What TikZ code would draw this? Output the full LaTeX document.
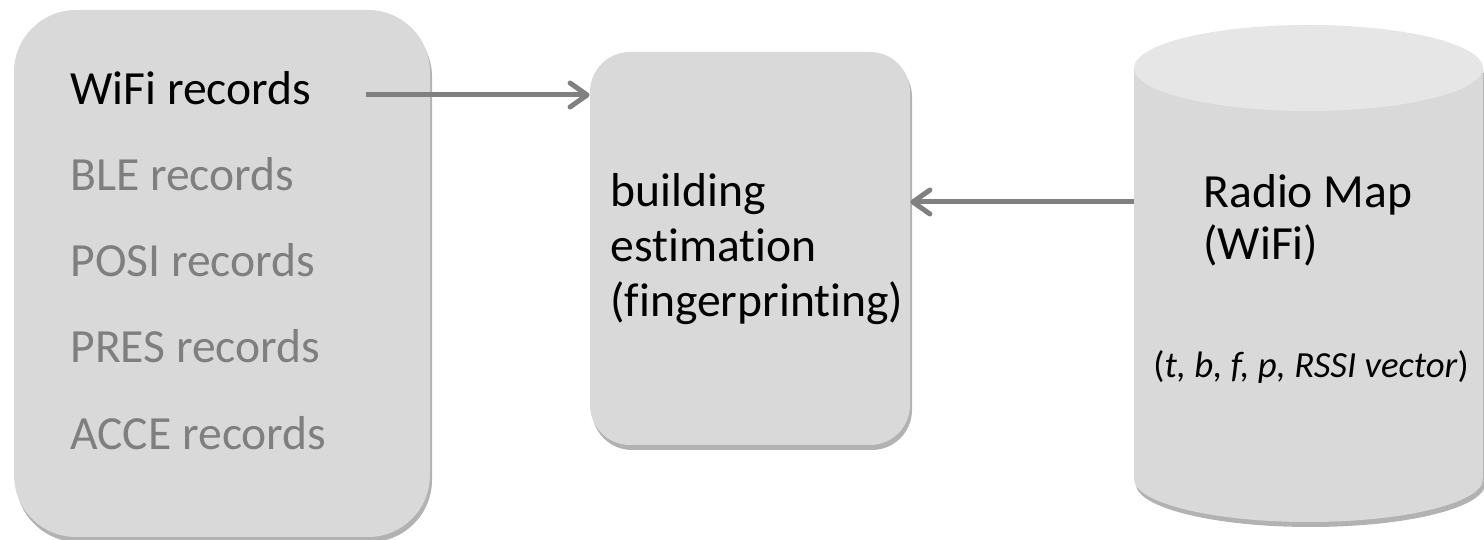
\documentclass[tikz,border=0pt]{standalone}
\usepackage{fontspec}
\setmainfont{Carlito}[Ligatures=CommonOff]
\usepackage{xcolor}
\usetikzlibrary{arrows.meta,shadows}
\definecolor{boxgray}{HTML}{D9D9D9}
\definecolor{topgray}{HTML}{E6E6E6}
\definecolor{arrowgray}{HTML}{808080}
\definecolor{textgray}{HTML}{7F7F7F}

\begin{document}
\begin{tikzpicture}[x=0.5pt, y=0.5pt,
  panel/.style={fill=boxgray, draw=none, inner sep=0pt,
    drop shadow={shadow xshift=1pt, shadow yshift=-2.5pt, opacity=0.3, fill=black}},
  txt/.style={anchor=base west, inner sep=0pt, font=\fontsize{23.8}{28}\selectfont},
  link/.style={-{Straight Barb[length=8.5pt, width=12pt, round]}, line width=2.5pt, arrowgray}]
\useasboundingbox (0,0) rectangle (1484,540);
% блоки
\node (records) [panel, rounded corners=31pt, minimum width=208pt, minimum height=263.5pt] at (222,266.5) {};
\node (est) [panel, rounded corners=20pt, minimum width=160pt, minimum height=196.5pt] at (750,291.5) {};
% цилиндр
\path [fill=boxgray, drop shadow={shadow xshift=1pt, shadow yshift=-2.5pt, opacity=0.3, fill=black}]
  (1134,472) -- (1134,61) arc [start angle=180, end angle=360, x radius=174.5, y radius=43] -- (1483,472) -- cycle;
\fill [topgray] (1308.5,472) ellipse [x radius=174.5, y radius=43];
% подписи
\node (wifi) [txt] at (70,435) {WiFi records};
\node (ble) [txt, textgray] at (70,349) {BLE records};
\node (posi) [txt, textgray] at (70,263) {POSI records};
\node (pres) [txt, textgray] at (70,177) {PRES records};
\node (acce) [txt, textgray] at (70,90) {ACCE records};
\node (build) [txt] at (610,333) {building};
\node (estim) [txt] at (610,278) {estimation};
\node (finger) [txt] at (610,223) {(fingerprinting)};
\node (radio) [txt] at (1203,332) {Radio Map};
\node (radiowifi) [txt] at (1203,280) {(WiFi)};
\node (tuple) [txt, font=\fontsize{18.4}{22}\selectfont] at (1153,162) {(\textit{t, b, f, p, RSSI vector})};
% стрелки
\coordinate (wifiout) at (366,445);
\coordinate (mapout) at (1134,338);
\draw [link] (wifiout) -- (wifiout -| est.west);
\draw [link] (mapout) -- (mapout -| est.east);
\end{tikzpicture}
\end{document}
